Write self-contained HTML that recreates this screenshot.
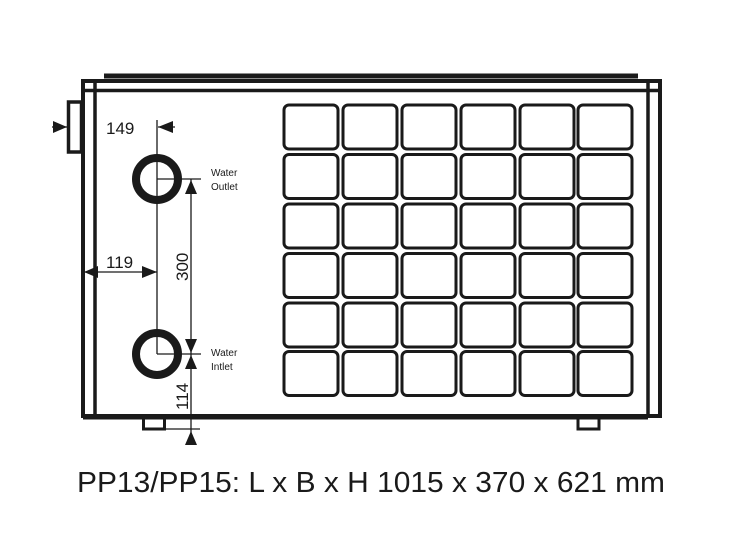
<!DOCTYPE html><html><head><style>body{margin:0;background:#fff}svg{display:block}</style></head><body>
<svg width="741" height="560" viewBox="0 0 741 560" xmlns="http://www.w3.org/2000/svg" font-family="Liberation Sans, sans-serif">
<rect width="741" height="560" fill="#fff"/>
<g fill="none" stroke="#1a1a1a">
<line x1="104" y1="76" x2="638" y2="76" stroke-width="5"/>
<rect x="83" y="81" width="577" height="335" stroke-width="4"/>
<line x1="95" y1="81" x2="95" y2="416" stroke-width="3.5"/>
<line x1="83" y1="90.5" x2="660" y2="90.5" stroke-width="3.5"/>
<line x1="648" y1="81" x2="648" y2="416" stroke-width="3.5"/>
<line x1="83" y1="417" x2="648" y2="417" stroke-width="5"/>
<rect x="68.5" y="102" width="13" height="50" stroke-width="3.5"/>
<rect x="143.5" y="418" width="21" height="11" stroke-width="3"/>
<rect x="578" y="418" width="21" height="11" stroke-width="3"/>
</g>
<g fill="none" stroke="#1a1a1a" stroke-width="3">
<rect x="284" y="105" width="54" height="44" rx="5"/><rect x="343" y="105" width="54" height="44" rx="5"/><rect x="402" y="105" width="54" height="44" rx="5"/><rect x="461" y="105" width="54" height="44" rx="5"/><rect x="520" y="105" width="54" height="44" rx="5"/><rect x="578" y="105" width="54" height="44" rx="5"/>
<rect x="284" y="154.5" width="54" height="44" rx="5"/><rect x="343" y="154.5" width="54" height="44" rx="5"/><rect x="402" y="154.5" width="54" height="44" rx="5"/><rect x="461" y="154.5" width="54" height="44" rx="5"/><rect x="520" y="154.5" width="54" height="44" rx="5"/><rect x="578" y="154.5" width="54" height="44" rx="5"/>
<rect x="284" y="204" width="54" height="44" rx="5"/><rect x="343" y="204" width="54" height="44" rx="5"/><rect x="402" y="204" width="54" height="44" rx="5"/><rect x="461" y="204" width="54" height="44" rx="5"/><rect x="520" y="204" width="54" height="44" rx="5"/><rect x="578" y="204" width="54" height="44" rx="5"/>
<rect x="284" y="253.5" width="54" height="44" rx="5"/><rect x="343" y="253.5" width="54" height="44" rx="5"/><rect x="402" y="253.5" width="54" height="44" rx="5"/><rect x="461" y="253.5" width="54" height="44" rx="5"/><rect x="520" y="253.5" width="54" height="44" rx="5"/><rect x="578" y="253.5" width="54" height="44" rx="5"/>
<rect x="284" y="303" width="54" height="44" rx="5"/><rect x="343" y="303" width="54" height="44" rx="5"/><rect x="402" y="303" width="54" height="44" rx="5"/><rect x="461" y="303" width="54" height="44" rx="5"/><rect x="520" y="303" width="54" height="44" rx="5"/><rect x="578" y="303" width="54" height="44" rx="5"/>
<rect x="284" y="351.5" width="54" height="44" rx="5"/><rect x="343" y="351.5" width="54" height="44" rx="5"/><rect x="402" y="351.5" width="54" height="44" rx="5"/><rect x="461" y="351.5" width="54" height="44" rx="5"/><rect x="520" y="351.5" width="54" height="44" rx="5"/><rect x="578" y="351.5" width="54" height="44" rx="5"/>
</g>
<g fill="none" stroke="#1a1a1a" stroke-width="8">
<circle cx="157" cy="179" r="21"/><circle cx="157" cy="354" r="21"/>
</g>
<g stroke="#1a1a1a" stroke-width="1.3" fill="none">
<line x1="157" y1="120" x2="157" y2="354"/>
<line x1="157" y1="179" x2="201" y2="179"/>
<line x1="157" y1="354" x2="201" y2="354"/>
<line x1="191" y1="179" x2="191" y2="445"/>
<line x1="166" y1="429" x2="200" y2="429"/>
<line x1="84" y1="272" x2="157" y2="272"/>
<line x1="52" y1="127" x2="68" y2="127"/>
<line x1="158" y1="127" x2="175" y2="127"/>
</g>
<g fill="#1a1a1a">
<polygon points="185,194 197,194 191,180"/>
<polygon points="185,339 197,339 191,353"/>
<polygon points="185,369 197,369 191,355"/>
<polygon points="185,445 197,445 191,431"/>
<polygon points="84,272 98,266 98,278"/>
<polygon points="157,272 142,266 142,278"/>
<polygon points="67,127 53,121 53,133"/>
<polygon points="158,127 173,121 173,133"/>
</g>
<g fill="#1a1a1a">
<text x="106" y="134" font-size="17">149</text>
<text x="106" y="268" font-size="17">119</text>
<text transform="translate(188,281) rotate(-90)" font-size="17">300</text>
<text transform="translate(188,410) rotate(-90)" font-size="17">114</text>
<text x="211" y="176" font-size="10">Water</text>
<text x="211" y="190" font-size="10">Outlet</text>
<text x="211" y="356" font-size="10">Water</text>
<text x="211" y="370" font-size="10">Intlet</text>
<text x="77" y="492" font-size="29" textLength="588" lengthAdjust="spacingAndGlyphs">PP13/PP15: L x B x H  1015 x 370 x 621 mm</text>
</g>
</svg>
</body></html>
